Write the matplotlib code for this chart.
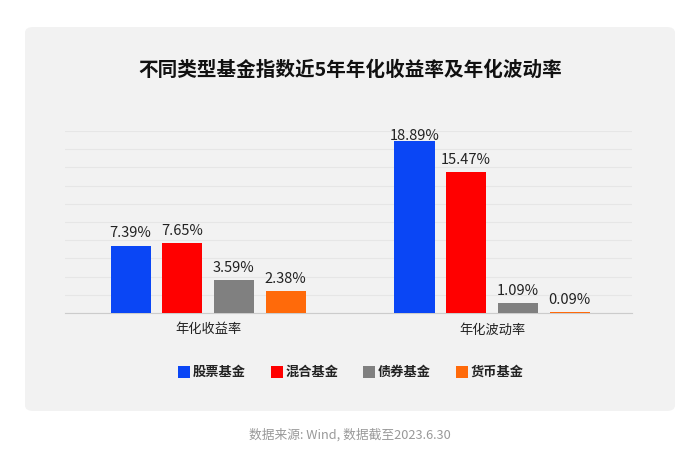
import matplotlib.pyplot as plt
import numpy as np
from matplotlib.patches import FancyBboxPatch, Rectangle

plt.rcParams['font.family'] = ['Noto Sans CJK SC', 'DejaVu Sans']

# 数据
categories = ['年化收益率', '年化波动率']
series = ['股票基金', '混合基金', '债券基金', '货币基金']
values = {
    '股票基金': [7.39, 18.89],
    '混合基金': [7.65, 15.47],
    '债券基金': [3.59, 1.09],
    '货币基金': [2.38, 0.09],
}
colors = ['#0a46f5', '#ff0000', '#808080', '#ff6a0a']

fig = plt.figure(figsize=(7, 4.75), dpi=100)
fig.patch.set_facecolor('white')

# 灰色圆角背景
panel = FancyBboxPatch((25 / 700, 1 - 411 / 475), 650 / 700, 384 / 475,
                       boxstyle='round,pad=0,rounding_size=0.012',
                       transform=fig.transFigure, facecolor='#f2f2f2',
                       edgecolor='none', zorder=-1)
fig.patches.append(panel)

ax = fig.add_axes([65 / 700, 1 - 313 / 475, 567 / 700, 182 / 475])
ax.set_facecolor('none')
ax.set_zorder(1)

x = np.arange(len(categories))
width = 0.141
step = 0.182
for i, (name, c) in enumerate(zip(series, colors)):
    pos = x + (i - 1.5) * step
    bars = ax.bar(pos, values[name], width=width, color=c, zorder=3)
    for b, v in zip(bars, values[name]):
        # 顶部标签不超出绘图区
        ax.text(b.get_x() + b.get_width() / 2, min(v + 0.6, 18.7), f'{v:.2f}%',
                ha='center', va='bottom', fontsize=10.5, color='#222222',
                clip_on=False, zorder=4)

ax.set_ylim(0, 20)
ax.set_xlim(-0.504, 1.493)
ax.set_yticks(np.arange(0, 21, 2))
ax.yaxis.grid(True, color='#e6e6e6', linewidth=0.8, zorder=0)
ax.tick_params(left=False, labelleft=False, bottom=False)
ax.set_xticks(x)
ax.set_xticklabels(categories, fontsize=9.5, color='#222222', fontweight='medium')
ax.tick_params(axis='x', pad=4)
for s in ['top', 'right', 'left']:
    ax.spines[s].set_visible(False)
ax.spines['bottom'].set_color('#cccccc')

# 标题
fig.text(0.5, 1 - 70 / 475, '不同类型基金指数近5年年化收益率及年化波动率',
         ha='center', va='center', fontsize=14.1, fontweight='bold', color='#111111')

# 图例
lx = [178, 271, 363, 456]
for px, name, c in zip(lx, series, colors):
    fig.patches.append(Rectangle((px / 700, 1 - 378 / 475), 12 / 700, 12 / 475,
                                 transform=fig.transFigure, facecolor=c,
                                 edgecolor='none'))
    fig.text((px + 15) / 700, 1 - 372 / 475, name, ha='left', va='center',
             fontsize=9.5, fontweight='bold', color='#222222')

# 数据来源
fig.text(0.5, 1 - 435 / 475, '数据来源: Wind, 数据截至2023.6.30',
         ha='center', va='center', fontsize=9.2, color='#999999')

fig.savefig('out.png', dpi=100, facecolor='white')
